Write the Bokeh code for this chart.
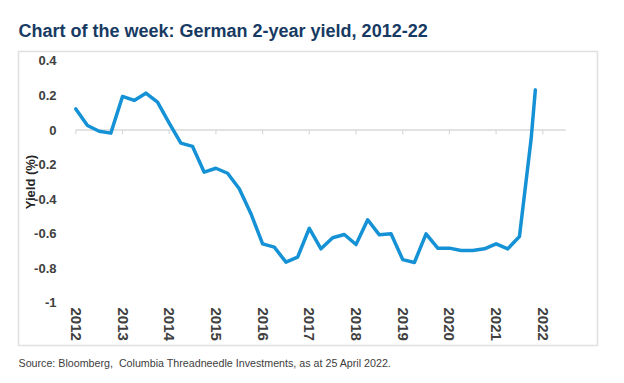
import math
from bokeh.plotting import figure
from bokeh.models import (FixedTicker, Title, ColumnDataSource, Label)
from bokeh.embed import file_html
from bokeh.resources import INLINE

# ---- data ----
dates = [2012.0, 2012.25, 2012.5, 2012.75, 2013.0, 2013.25, 2013.5, 2013.75,
         2014.0, 2014.25, 2014.5, 2014.75, 2015.0, 2015.25, 2015.5, 2015.75,
         2016.0, 2016.25, 2016.5, 2016.75, 2017.0, 2017.25, 2017.5, 2017.75,
         2018.0, 2018.25, 2018.5, 2018.75, 2019.0, 2019.25, 2019.5, 2019.75,
         2020.0, 2020.25, 2020.5, 2020.75, 2021.0, 2021.25, 2021.5, 2021.75,
         2021.84]
yield_pct = [0.122, 0.026, -0.007, -0.018, 0.194, 0.171, 0.213, 0.161,
             0.040, -0.076, -0.095, -0.244, -0.221, -0.250, -0.340, -0.484,
             -0.658, -0.677, -0.764, -0.735, -0.568, -0.687, -0.623, -0.604,
             -0.662, -0.519, -0.606, -0.600, -0.749, -0.766, -0.600, -0.683,
             -0.683, -0.697, -0.697, -0.687, -0.658, -0.687, -0.616, -0.051,
             0.232]
year_ticks = [2012, 2013, 2014, 2015, 2016, 2017, 2018, 2019, 2020, 2021, 2022]
year_labels = ["2012", "2013", "2014", "2015", "2016", "2017", "2018", "2019",
               "2020", "2021", "2022"]
y_ticks = [-1, -0.8, -0.6, -0.4, -0.2, 0, 0.2, 0.4]
y_labels = ["-1", "-0.8", "-0.6", "-0.4", "-0.2", "0", "0.2", "0.4"]
axis_end = 2022.49

title_text = "Chart of the week: German 2-year yield, 2012-22"
y_axis_title = "Yield (%)"
source_text = "Source: Bloomberg,\u00a0 Columbia Threadneedle Investments, as at 25 April 2022."

NARROW = "'Liberation Sans Narrow', 'Arial Narrow', 'Liberation Sans', sans-serif"
SANS = "'Liberation Sans', Arial, sans-serif"

# the plot frame is the light grey box around the chart
p = figure(width=616, height=380, output_backend="svg", toolbar_location=None,
           x_range=(2010.773, 2023.171), y_range=(-1.2457, 0.4538),
           min_border_left=18, min_border_right=19, min_border_top=51,
           min_border_bottom=35)
p.background_fill_color = "white"
p.border_fill_color = "white"
p.outline_line_color = "#e0e0e0"
p.outline_line_width = 1.5
p.grid.visible = False

# title
p.title.text = title_text
p.title.text_font = NARROW
p.title.text_font_size = "18px"
p.title.text_font_style = "bold"
p.title.text_color = "#173a63"
p.title.align = "left"
p.title.offset = 0
p.title.standoff = 22

# zero line and ticks
p.segment(x0=[year_ticks[0]], y0=[0], x1=[axis_end], y1=[0],
          line_color="#d9d9d9", line_width=1.5)
p.segment(x0=year_ticks, y0=[0] * len(year_ticks), x1=year_ticks,
          y1=[-0.024] * len(year_ticks), line_color="#d9d9d9", line_width=1.2)

# series
src = ColumnDataSource(dict(x=dates, y=yield_pct))
p.line("x", "y", source=src, line_color="#1592d6", line_width=3.5,
       line_join="round", line_cap="round")

# axes, drawn inside the frame
xa = p.xaxis[0]
xa.fixed_location = -0.974
xa.ticker = FixedTicker(ticks=year_ticks)
xa.major_label_overrides = dict(zip(year_ticks, year_labels))
xa.major_label_orientation = -math.pi / 2
xa.axis_line_color = None
xa.major_tick_line_color = None
xa.minor_tick_line_color = None
xa.major_label_standoff = 3
xa.major_label_text_font = SANS
xa.major_label_text_font_size = "15px"
xa.major_label_text_font_style = "bold"
xa.major_label_text_color = "#404040"

ya = p.yaxis[0]
ya.fixed_location = 2011.8865
ya.ticker = FixedTicker(ticks=y_ticks)
ya.major_label_overrides = dict(zip(y_ticks, y_labels))
ya.axis_line_color = None
ya.major_tick_line_color = None
ya.minor_tick_line_color = None
ya.major_label_standoff = 8
ya.major_label_text_font = SANS
ya.major_label_text_font_size = "13px"
ya.major_label_text_font_style = "bold"
ya.major_label_text_color = "#404040"

p.add_layout(Label(x=2011.03, y=-0.3006, text=y_axis_title, angle=math.pi / 2,
                   text_align="center", text_baseline="middle",
                   text_font=SANS, text_font_size="13px",
                   text_font_style="bold", text_color="#262626"))

src_title = Title(text=source_text, align="left", offset=0,
                  text_font=SANS, text_font_size="10.7px",
                  text_font_style="normal", text_color="#404040", standoff=18)
p.add_layout(src_title, "below")

open("out.html", "w").write(file_html(p, INLINE))
